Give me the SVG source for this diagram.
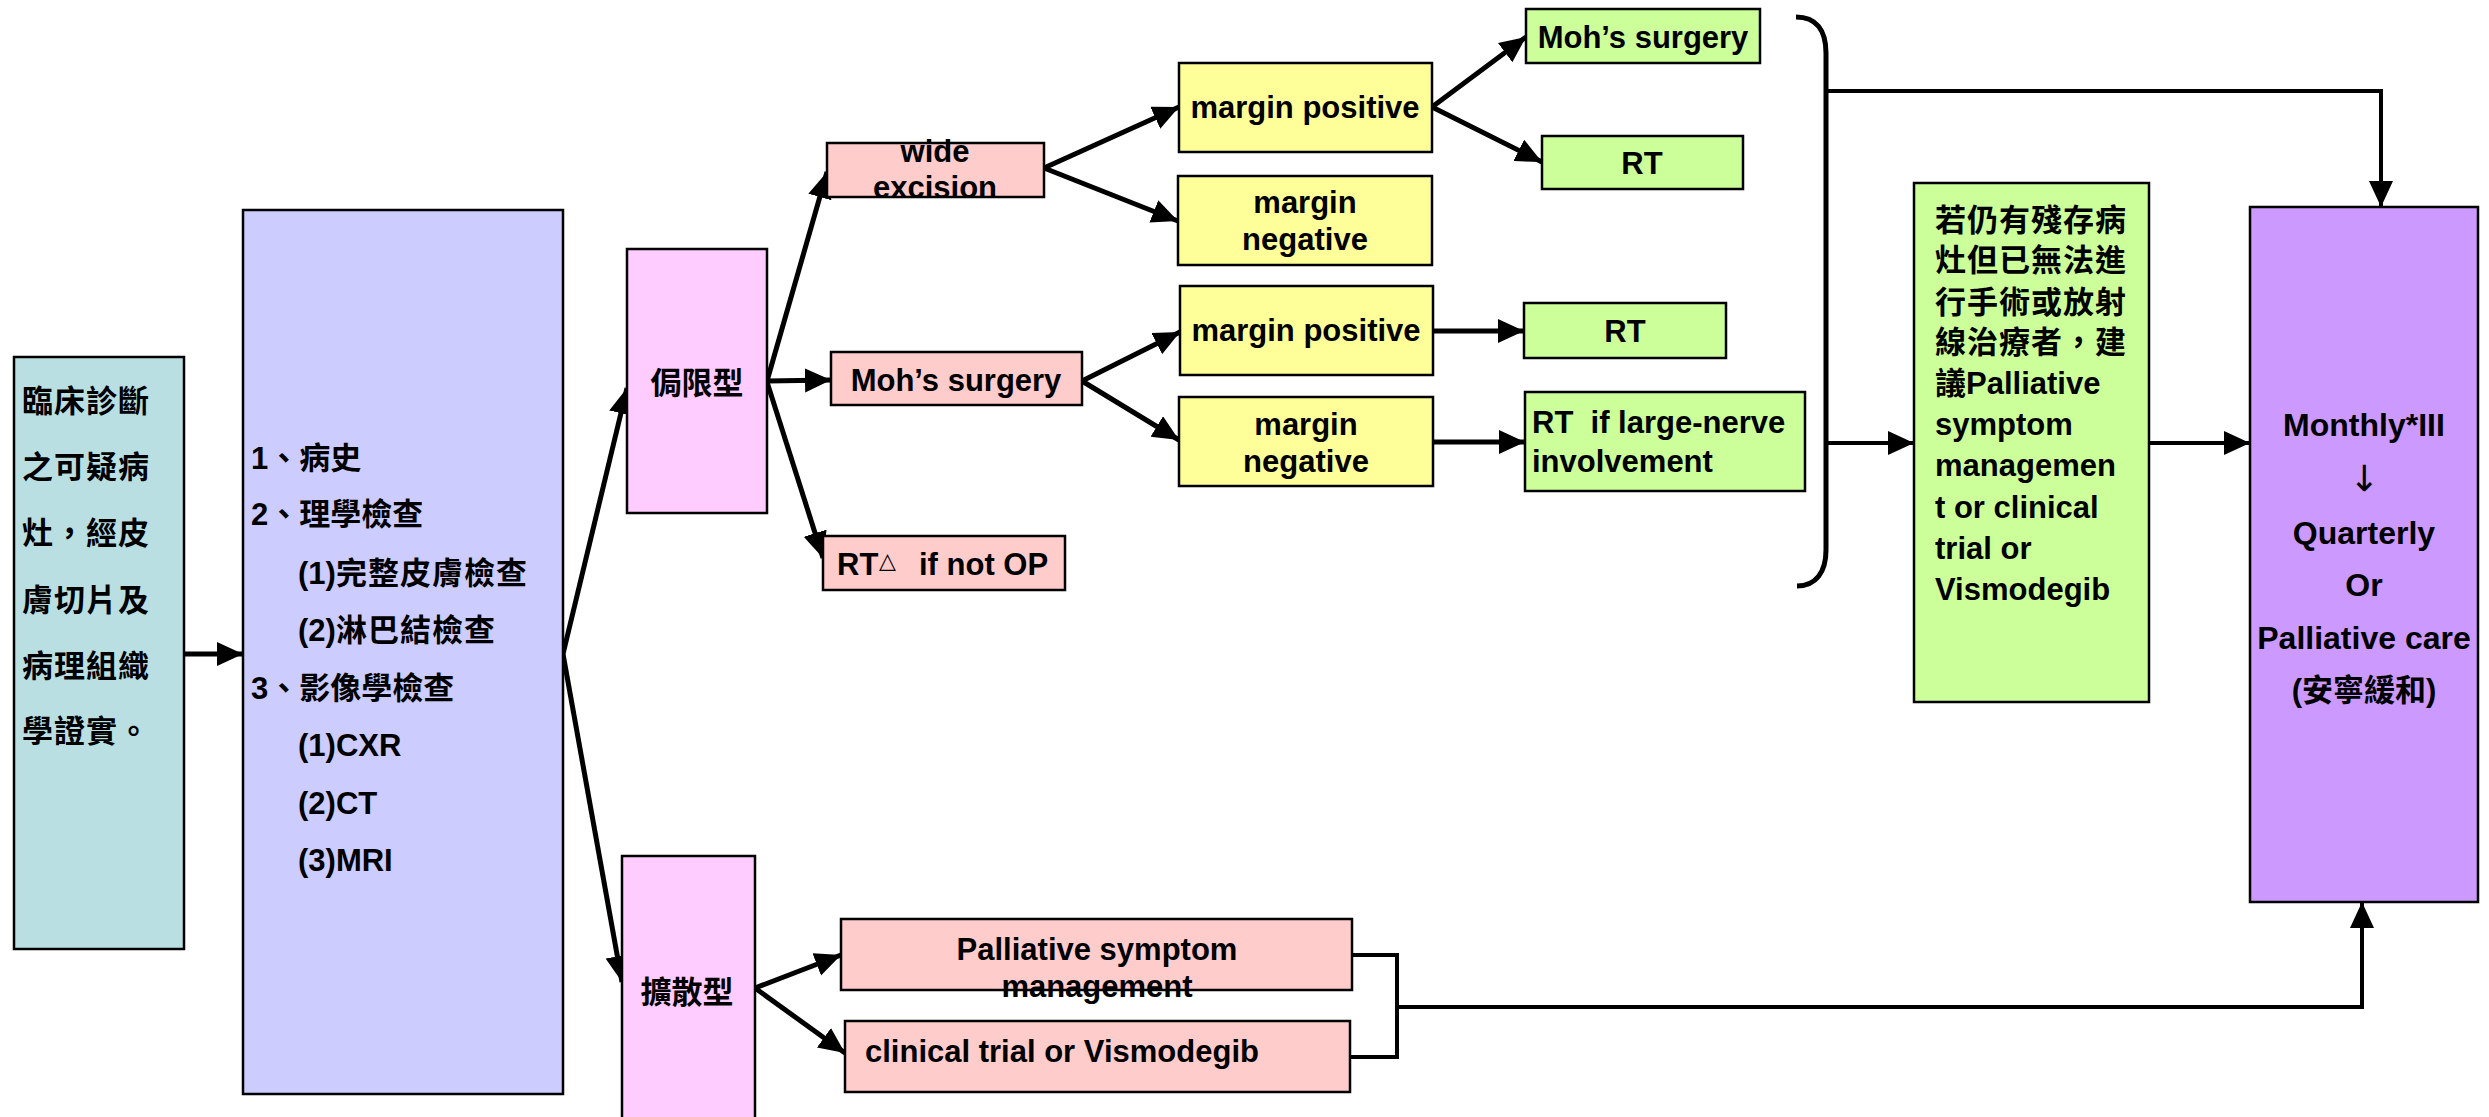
<svg xmlns="http://www.w3.org/2000/svg" width="2489" height="1117" viewBox="0 0 2489 1117">
<style>
.b{stroke:#000;stroke-width:2.5}
.t{font-family:"Liberation Sans","Noto Sans CJK TC",sans-serif;font-weight:bold;font-size:31px;fill:#000}
.m{text-anchor:middle}
.f32{font-size:32px}
.arr{font-family:"DejaVu Sans",sans-serif;font-size:36px;font-weight:normal}
.c{fill:none;stroke:#000;stroke-width:5}
.c4{fill:none;stroke:#000;stroke-width:4}
.a{marker-end:url(#ah)}
</style>
<defs>
<marker id="ah" markerUnits="userSpaceOnUse" markerWidth="28" markerHeight="26" refX="26" refY="12" orient="auto">
<path d="M0,0 L26,12 L0,24 z" fill="#000"/>
</marker>
</defs>
<rect width="2489" height="1117" fill="#fff"/>

<g id="connectors">
<line class="c a" x1="184" y1="654" x2="243" y2="654"/>
<line class="c a" x1="563" y1="654" x2="627" y2="388"/>
<line class="c a" x1="563" y1="654" x2="622" y2="982"/>
<line class="c a" x1="767" y1="381" x2="827" y2="172"/>
<line class="c a" x1="767" y1="381" x2="831" y2="380"/>
<line class="c a" x1="767" y1="382" x2="823" y2="558"/>
<line class="c a" x1="1044" y1="168" x2="1179" y2="107"/>
<line class="c a" x1="1044" y1="168" x2="1178" y2="221"/>
<line class="c a" x1="1082" y1="381" x2="1180" y2="332"/>
<line class="c a" x1="1082" y1="381" x2="1179" y2="440"/>
<line class="c a" x1="1432" y1="107" x2="1526" y2="37"/>
<line class="c a" x1="1432" y1="107" x2="1542" y2="162"/>
<line class="c a" x1="1433" y1="331" x2="1524" y2="331"/>
<line class="c a" x1="1433" y1="442" x2="1525" y2="442"/>
<path class="c" d="M1796,17 C1816,17 1826,30 1826,53 L1826,550 C1826,572 1816,586 1797,586"/>
<polyline class="c4 a" points="1826,91 2381,91 2381,207"/>
<line class="c4 a" x1="1826" y1="443" x2="1914" y2="443"/>
<line class="c4 a" x1="2149" y1="443" x2="2250" y2="443"/>
<line class="c a" x1="755" y1="988" x2="841" y2="955"/>
<line class="c a" x1="755" y1="988" x2="845" y2="1053"/>
<polyline class="c4" points="1352,955 1397,955 1397,1057 1349,1057"/>
<polyline class="c4 a" points="1397,1007 2362,1007 2362,902"/>
</g>

<g id="n-diag">
<rect class="b" x="14" y="357" width="170" height="592" fill="#B9DFE3"/>
<text class="t" x="22" y="412" letter-spacing="1">臨床診斷</text>
<text class="t" x="22" y="478" letter-spacing="1">之可疑病</text>
<text class="t" x="22" y="544" letter-spacing="1">灶，經皮</text>
<text class="t" x="22" y="611" letter-spacing="1">膚切片及</text>
<text class="t" x="22" y="677" letter-spacing="1">病理組織</text>
<text class="t" x="22" y="742" letter-spacing="1">學證實。</text>
</g>

<g id="n-exam">
<rect class="b" x="243" y="210" width="320" height="884" fill="#CCCCFF"/>
<text class="t" x="251" y="469">1、病史</text>
<text class="t" x="251" y="525">2、理學檢查</text>
<text class="t" x="298" y="584">(1)<tspan letter-spacing="1">完整皮膚檢查</tspan></text>
<text class="t" x="298" y="641">(2)<tspan letter-spacing="1">淋巴結檢查</tspan></text>
<text class="t" x="251" y="699">3、影像學檢查</text>
<text class="t" x="298" y="756">(1)CXR</text>
<text class="t" x="298" y="814">(2)CT</text>
<text class="t" x="298" y="871">(3)MRI</text>
</g>

<g id="n-local">
<rect class="b" x="627" y="249" width="140" height="264" fill="#FFCCFF"/>
<text class="t m" x="697" y="394">侷限型</text>
</g>

<g id="n-diffuse">
<rect class="b" x="622" y="856" width="133" height="275" fill="#FFCCFF"/>
<text class="t m" x="687" y="1003">擴散型</text>
</g>

<g id="n-wide">
<rect class="b" x="827" y="143" width="217" height="54" fill="#FFCCCC"/>
<text class="t m" x="935" y="162">wide</text>
<text class="t m" x="935" y="198">excision</text>
</g>

<g id="n-mohs1">
<rect class="b" x="831" y="352" width="251" height="53" fill="#FFCCCC"/>
<text class="t m" x="956" y="391">Moh’s surgery</text>
</g>

<g id="n-rtnotop">
<rect class="b" x="823" y="536" width="242" height="54" fill="#FFCCCC"/>
<text class="t" x="837" y="575">RT<tspan x="879" y="568" font-size="22" font-weight="normal" font-family="DejaVu Sans, sans-serif">△</tspan><tspan x="919" y="575">if not OP</tspan></text>
</g>

<g id="n-mp1">
<rect class="b" x="1179" y="63" width="253" height="89" fill="#FFFF99"/>
<text class="t m" x="1305" y="118">margin positive</text>
</g>

<g id="n-mn1">
<rect class="b" x="1178" y="176" width="254" height="89" fill="#FFFF99"/>
<text class="t m" x="1305" y="213">margin</text>
<text class="t m" x="1305" y="250">negative</text>
</g>

<g id="n-mp2">
<rect class="b" x="1180" y="286" width="253" height="89" fill="#FFFF99"/>
<text class="t m" x="1306" y="341">margin positive</text>
</g>

<g id="n-mn2">
<rect class="b" x="1179" y="397" width="254" height="89" fill="#FFFF99"/>
<text class="t m" x="1306" y="435">margin</text>
<text class="t m" x="1306" y="472">negative</text>
</g>

<g id="n-mohs2">
<rect class="b" x="1526" y="9" width="234" height="54" fill="#CCFF99"/>
<text class="t m" x="1643" y="48">Moh’s surgery</text>
</g>

<g id="n-rt1">
<rect class="b" x="1542" y="136" width="201" height="53" fill="#CCFF99"/>
<text class="t m" x="1642" y="174">RT</text>
</g>

<g id="n-rt2">
<rect class="b" x="1524" y="303" width="202" height="55" fill="#CCFF99"/>
<text class="t m" x="1625" y="342">RT</text>
</g>

<g id="n-rtnerve">
<rect class="b" x="1525" y="392" width="280" height="99" fill="#CCFF99"/>
<text class="t" x="1532" y="433">RT&#160; if large-nerve</text>
<text class="t" x="1532" y="472">involvement</text>
</g>

<g id="n-residual">
<rect class="b" x="1914" y="183" width="235" height="519" fill="#CCFF99"/>
<text class="t" x="1935" y="231" letter-spacing="1">若仍有殘存病</text>
<text class="t" x="1935" y="271" letter-spacing="1">灶但已無法進</text>
<text class="t" x="1935" y="313" letter-spacing="1">行手術或放射</text>
<text class="t" x="1935" y="353" letter-spacing="1">線治療者，建</text>
<text class="t" x="1935" y="394">議Palliative</text>
<text class="t" x="1935" y="435">symptom</text>
<text class="t" x="1935" y="476">managemen</text>
<text class="t" x="1935" y="518">t or clinical</text>
<text class="t" x="1935" y="559">trial or</text>
<text class="t" x="1935" y="600">Vismodegib</text>
</g>

<g id="n-followup">
<rect class="b" x="2250" y="207" width="228" height="695" fill="#CC99FF"/>
<text class="t m f32" x="2364" y="436">Monthly*III</text>
<text class="t m arr" x="2364" y="491">↓</text>
<text class="t m f32" x="2364" y="544">Quarterly</text>
<text class="t m f32" x="2364" y="596">Or</text>
<text class="t m f32" x="2364" y="649">Palliative care</text>
<text class="t m" x="2364" y="701">(安寧緩和)</text>
</g>

<g id="n-palliative">
<rect class="b" x="841" y="919" width="511" height="71" fill="#FFCCCC"/>
<text class="t m" x="1097" y="960">Palliative symptom</text>
<text class="t m" x="1097" y="997">management</text>
</g>

<g id="n-clinical">
<rect class="b" x="845" y="1021" width="505" height="71" fill="#FFCCCC"/>
<text class="t" x="865" y="1062">clinical trial or Vismodegib</text>
</g>
</svg>
